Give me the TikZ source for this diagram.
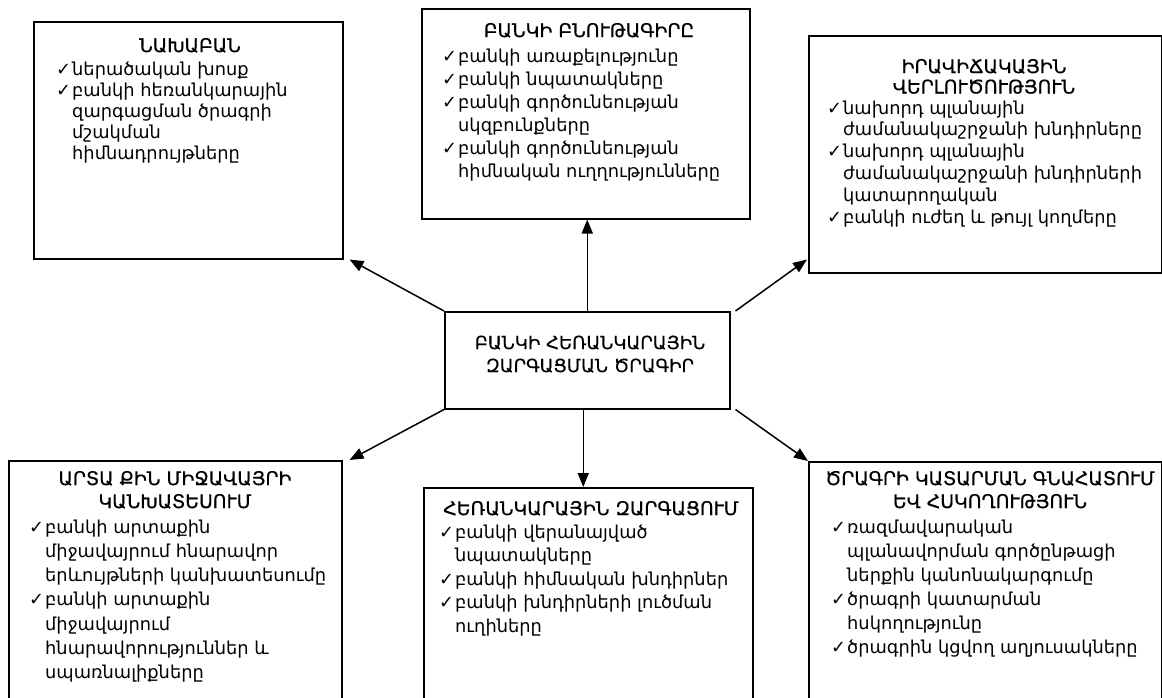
\documentclass[tikz,border=0pt]{standalone}
\usepackage{fontspec}
\setmainfont{DejaVu Sans}
\usetikzlibrary{arrows.meta,calc}
\newcommand\ckm{\makebox[16pt][l]{\fontsize{17.8}{16}\selectfont ✓}}
\newcommand\indt{\hspace*{16pt}}
\begin{document}
\begin{tikzpicture}[x=1pt,y=-1pt,
  box/.style={draw,line width=1.5pt,inner sep=0,anchor=north west},
  txt/.style={inner sep=0,anchor=base west,font={\fontsize{17.8}{#1}\selectfont}},
  txt/.default=22,
  ttl/.style={inner sep=0,anchor=base,font={\fontsize{18.8}{#1}\selectfont\addfontfeature{FakeBold=0.6}}},
  ttl/.default=22,
  ctr/.style={inner sep=0,anchor=base,font={\fontsize{18}{23}\selectfont\addfontfeature{FakeBold=0.3}}},
  conn/.style={line width=1.5pt,-{Triangle[length=14pt,width=11pt]}}]
\useasboundingbox (0,0) rectangle (1162,697);
\clip (0,0) rectangle (1162,697);
% boxes
\node[box,minimum width=309pt,minimum height=237pt] (b1) at (33,21) {};
\node[box,minimum width=328pt,minimum height=210pt] (b2) at (421,8) {};
\node[box,minimum width=353pt,minimum height=237pt] (b3) at (808,35) {};
\node[box,minimum width=285pt,minimum height=97pt] (c) at (444,311) {};
\node[box,minimum width=333pt,minimum height=300pt] (b4) at (8,460) {};
\node[box,minimum width=329pt,minimum height=300pt] (b5) at (423,487) {};
\node[box,minimum width=353pt,minimum height=300pt] (b6) at (808,461) {};
% connectors
\draw[conn] (c.north) -- (c.north |- b2.south);
\draw[conn] ($(c.south)+(-4,0)$) -- ($(c.south |- b5.north)+(-4,0)$);
\draw[conn] (c.north west) -- ($(b1.south east)+(6,0)$);
\draw[conn] ($(c.north east)+(5,0)$) -- ($(b3.south west)+(-1,-14)$);
\draw[conn] (c.south west) -- ($(b4.north east)+(7,0)$);
\draw[conn] ($(c.south east)+(5,0)$) -- (b6.north west);
% box 1
\node[ttl] (t1) at (190,52) {ՆԱԽԱԲԱՆ};
\node[txt=21] (l1) at (56,75) {\begin{tabular}[t]{@{}l@{}}
\ckm ներածական խոսք\\
\ckm բանկի հեռանկարային\\
\indt զարգացման ծրագրի\\
\indt մշակման\\
\indt հիմնադրույթները\end{tabular}};
% box 2
\node[ttl] (t2) at (589,37) {ԲԱՆԿԻ ԲՆՈՒԹԱԳԻՐԸ};
\node[txt=23] (l2) at (442,62) {\begin{tabular}[t]{@{}l@{}}
\ckm բանկի առաքելությունը\\
\ckm բանկի նպատակները\\
\ckm բանկի գործունեության\\
\indt սկզբունքները\\
\ckm բանկի գործունեության\\
\indt հիմնական ուղղությունները\end{tabular}};
% box 3
\node[ttl=20.5] (t3) at (984,73) {\begin{tabular}[t]{@{}c@{}}ԻՐԱՎԻՃԱԿԱՅԻՆ\\ ՎԵՐԼՈՒԾՈՒԹՅՈՒՆ\end{tabular}};
\node[txt=21.8] (l3) at (827,114) {\begin{tabular}[t]{@{}l@{}}
\ckm նախորդ պլանային\\
\indt ժամանակաշրջանի խնդիրները\\
\ckm նախորդ պլանային\\
\indt ժամանակաշրջանի խնդիրների\\
\indt կատարողական\\
\ckm բանկի ուժեղ և թույլ կողմերը\end{tabular}};
% center
\node[ctr] (tc) at (590,349) {\begin{tabular}[t]{@{}c@{}}ԲԱՆԿԻ ՀԵՌԱՆԿԱՐԱՅԻՆ\\ ԶԱՐԳԱՑՄԱՆ ԾՐԱԳԻՐ\end{tabular}};
% box 4
\node[ttl=23] (t4) at (175,485) {\begin{tabular}[t]{@{}c@{}}ԱՐՏԱ ՔԻՆ ՄԻՋԱՎԱՅՐԻ\\ ԿԱՆԽԱՏԵՍՈՒՄ\end{tabular}};
\node[txt=24.3] (l4) at (29,533) {\begin{tabular}[t]{@{}l@{}}
\ckm բանկի արտաքին\\
\indt միջավայրում հնարավոր\\
\indt երևույթների կանխատեսումը\\
\ckm բանկի արտաքին\\
\indt միջավայրում\\
\indt հնարավորություններ և\\
\indt սպառնալիքները\end{tabular}};
% box 5
\node[ttl] (t5) at (591,515) {ՀԵՌԱՆԿԱՐԱՅԻՆ ԶԱՐԳԱՑՈՒՄ};
\node[txt=23.5] (l5) at (439,538) {\begin{tabular}[t]{@{}l@{}}
\ckm բանկի վերանայված\\
\indt նպատակները\\
\ckm բանկի հիմնական խնդիրներ\\
\ckm բանկի խնդիրների լուծման\\
\indt ուղիները\end{tabular}};
% box 6
\node[ttl=23] (t6) at (990,485) {\begin{tabular}[t]{@{}c@{}}ԾՐԱԳՐԻ ԿԱՏԱՐՄԱՆ ԳՆԱՀԱՏՈՒՄ\\ ԵՎ ՀՍԿՈՂՈՒԹՅՈՒՆ\end{tabular}};
\node[txt=24] (l6) at (831,533) {\begin{tabular}[t]{@{}l@{}}
\ckm ռազմավարական\\
\indt պլանավորման գործընթացի\\
\indt ներքին կանոնակարգումը\\
\ckm ծրագրի կատարման\\
\indt հսկողությունը\\
\ckm ծրագրին կցվող աղյուսակները\end{tabular}};
\end{tikzpicture}
\end{document}
